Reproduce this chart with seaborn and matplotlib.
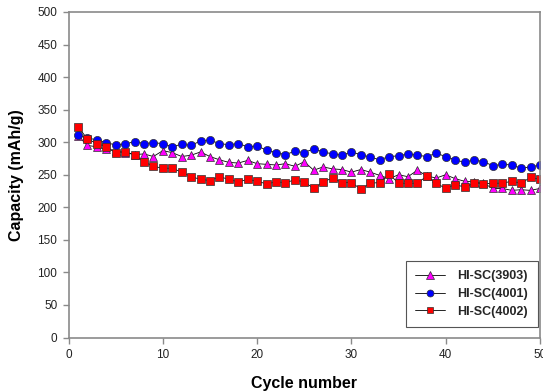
import numpy as np
import pandas as pd
import seaborn as sns
import matplotlib
matplotlib.use("Agg")
import matplotlib.pyplot as plt

# Discharge capacity per cycle for three samples
cycles = list(range(1, 51))
cap_3903 = [310, 295, 293, 289, 287, 284, 281, 282, 278, 287,
            284, 278, 280, 285, 278, 273, 269, 268, 272, 267,
            266, 265, 267, 263, 270, 257, 262, 259, 258, 254,
            258, 254, 249, 244, 250, 247, 257, 248, 245, 250,
            244, 240, 239, 237, 229, 229, 226, 227, 226, 229]
cap_4001 = [311, 306, 304, 299, 296, 297, 301, 298, 299, 298,
            293, 297, 295, 302, 303, 298, 296, 298, 293, 294,
            288, 284, 281, 286, 284, 290, 285, 282, 280, 285,
            281, 277, 273, 278, 279, 282, 280, 278, 283, 278,
            273, 269, 273, 270, 264, 266, 265, 260, 262, 265]
cap_4002 = [324, 305, 298, 293, 284, 285, 281, 270, 263, 260,
            260, 254, 247, 243, 241, 247, 243, 239, 243, 240,
            236, 239, 238, 242, 239, 229, 239, 245, 238, 238,
            228, 237, 238, 251, 237, 237, 237, 248, 237, 229,
            235, 231, 237, 236, 237, 237, 240, 237, 246, 243]

series_names = ["HI-SC(3903)", "HI-SC(4001)", "HI-SC(4002)"]
series_values = [cap_3903, cap_4001, cap_4002]
series_colors = ["#ff00ff", "#0000ff", "#ff0000"]
series_markers = ["^", "o", "s"]
series_msizes = [6.3, 5.9, 5.6]

x_ticks = [0, 10, 20, 30, 40, 50]
y_ticks = list(range(0, 501, 50))

sns.set_theme(style="white")
plt.rcParams["font.family"] = ["Liberation Sans", "DejaVu Sans"]

fig = plt.figure(figsize=(5.43, 3.92), dpi=100)
ax = fig.add_axes([68.5 / 543, 1 - 337.5 / 392, (540 - 68.5) / 543, (337.5 - 12) / 392])

for name, vals, col, mk, ms in zip(series_names, series_values, series_colors,
                                   series_markers, series_msizes):
    df = pd.DataFrame({"cycle": cycles, "capacity": vals})
    sns.lineplot(data=df, x="cycle", y="capacity", ax=ax, color="black",
                 linewidth=0.6, marker=mk, markersize=ms,
                 markerfacecolor=col, markeredgecolor="#303030",
                 markeredgewidth=0.5, label=name, sort=False)

ax.set_xlim(0, 50)
ax.set_ylim(0, 500)
ax.set_xticks(x_ticks)
ax.set_yticks(y_ticks)

for sp in ax.spines.values():
    sp.set_color("#8a8a8a")
    sp.set_linewidth(1.2)
    sp.set_visible(True)

ax.tick_params(axis="both", which="major", direction="out", length=4,
               width=1.0, color="#8a8a8a", labelsize=8.5, labelcolor="#222222",
               pad=4, bottom=True, left=True, top=False, right=False)

ax.set_xlabel("Cycle number", fontsize=11.5, fontweight="bold", color="black")
ax.set_ylabel("Capacity (mAh/g)", fontsize=11.5, fontweight="bold", color="black")
ax.xaxis.set_label_coords(0.5, -0.118)
ax.yaxis.set_label_coords(-0.094, 0.5)

leg = ax.legend(loc="lower right", bbox_to_anchor=(0.995, 0.032),
                borderaxespad=0, frameon=True, fancybox=False, framealpha=1,
                edgecolor="#555555", prop={"weight": "bold", "size": 9},
                handlelength=2.4, handletextpad=1.0, labelspacing=0.45,
                borderpad=0.75, markerscale=0.85)
leg.get_frame().set_linewidth(0.8)

fig.savefig("out.png", dpi=100)
